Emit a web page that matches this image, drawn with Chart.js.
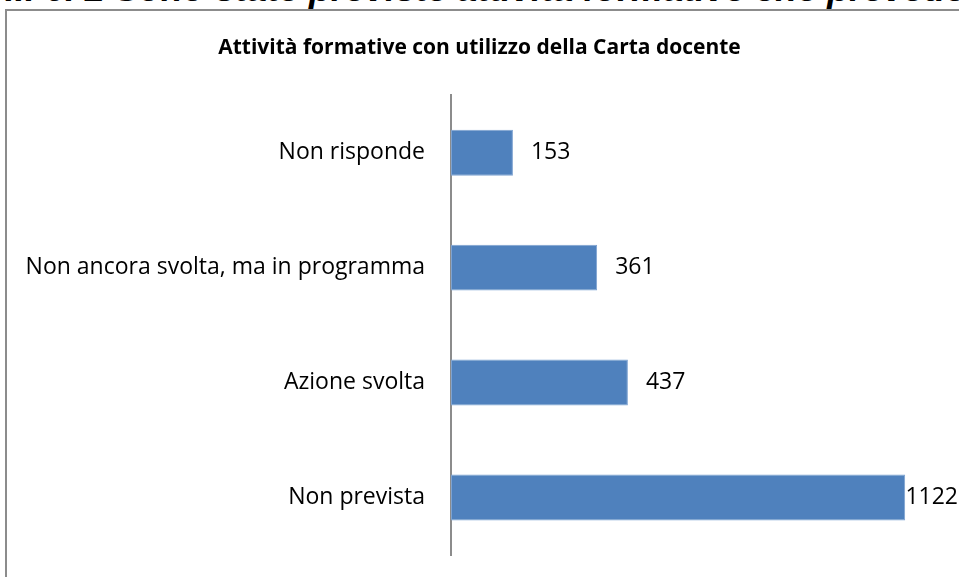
<!DOCTYPE html>
<html>
<head>
<meta charset="utf-8">
<script src="https://cdn.jsdelivr.net/npm/chart.js@4.4.1/dist/chart.umd.min.js"></script>
<style>
  html, body { margin: 0; padding: 0; background: #fff; overflow: hidden; }
  #heading {
    position: absolute; left: 5px; top: -32px; white-space: nowrap;
    font: italic bold 36px "Liberation Sans", Arial, sans-serif; color: #000;
  }
  #frame {
    position: absolute; left: 5px; top: 9px; width: 1000px; height: 600px;
    border-left: 2px solid #8c8c8c; border-top: 2px solid #8c8c8c;
  }
  #wrap { position: absolute; left: 0; top: 0; width: 959px; height: 577px; }
</style>
</head>
<body>
<div id="heading">II. 6. 2 Sono state previste attività formative che prevedono</div>
<div id="frame"></div>
<div id="wrap"><canvas id="chart"></canvas></div>
<script>
// Chart data
const categories = ['Non risponde', 'Non ancora svolta, ma in programma', 'Azione svolta', 'Non prevista'];
const values = [153, 361, 437, 1122];
const axisMax = 1255;
const chartTitle = 'Attività formative con utilizzo della Carta docente';

// value labels next to the bars
const barLabels = {
  id: 'barLabels',
  afterDatasetsDraw(chart) {
    const ctx = chart.ctx;
    const meta = chart.getDatasetMeta(0);
    ctx.save();
    ctx.font = '23px "Open Sans", sans-serif';
    ctx.fillStyle = '#000';
    ctx.textBaseline = 'middle';
    meta.data.forEach((bar, i) => {
      let x = bar.x + 18;
      const w = ctx.measureText(String(values[i])).width;
      if (x + w > chart.width - 1) x = chart.width - w - 1;
      ctx.fillText(String(values[i]), x, bar.y);
    });
    ctx.restore();
  }
};

new Chart(document.getElementById('chart'), {
  type: 'bar',
  data: {
    labels: categories,
    datasets: [{
      data: values,
      backgroundColor: '#4f81bd',
      borderColor: '#7ea3d1',
      borderWidth: 1,
      borderSkipped: false,
      categoryPercentage: 0.4,
      barPercentage: 1
    }]
  },
  options: {
    indexAxis: 'y',
    responsive: true,
    maintainAspectRatio: false,
    animation: false,
    layout: { padding: { left: 0, right: 0, top: 0, bottom: 22 } },
    scales: {
      x: { display: false, min: 0, max: axisMax },
      y: {
        grid: { display: true, color: 'transparent', drawOnChartArea: false, drawTicks: true, tickLength: 23 },
        border: { display: true, color: '#8c8c8c', width: 2 },
        ticks: { color: '#000', padding: 3, font: { family: '"Open Sans", sans-serif', size: 23 } },
        afterFit(scale) { scale.width = 451; }
      }
    },
    plugins: {
      legend: { display: false },
      tooltip: { enabled: false },
      title: {
        display: true,
        text: chartTitle,
        color: '#000',
        font: { family: '"Open Sans", sans-serif', size: 21, weight: 'bold' },
        padding: { top: 35, bottom: 35 }
      }
    }
  },
  plugins: [barLabels]
});
</script>
</body>
</html>
